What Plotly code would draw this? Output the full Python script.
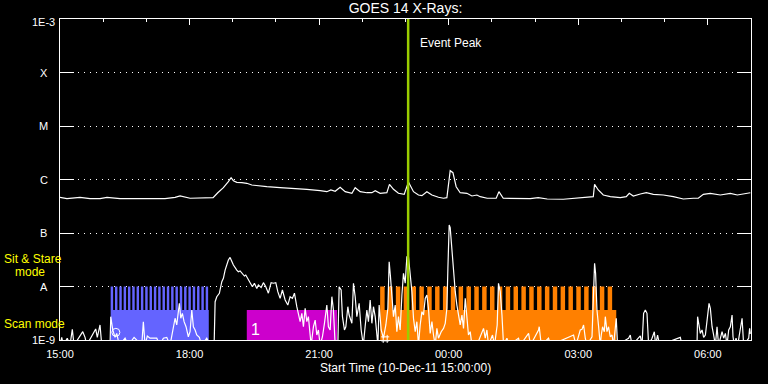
import numpy as np
import plotly.graph_objects as go

# ---------------- data (time in minutes after 10-Dec-11 15:00 UT) ----------------
long_t = [0, 9.7, 27.8, 41.7, 55.6, 65.3, 83.4, 111.2, 115.4, 127.9,
          145.9, 159.9, 166.8, 180.7, 194.6, 201.6, 212.7, 219.2, 227.0, 233.9,
          237.7, 240.9, 245.6, 252.6, 259.5, 266.5, 273.4, 287.3, 305.8, 324.3,
          342.9, 361.4, 370.7, 376.3, 382.3, 389.2, 396.2, 405.5, 410.1, 417.0,
          426.3, 433.3, 437.9, 444.8, 454.1, 457.7, 463.3, 470.2, 478.2, 484.1,
          491.1, 498.0, 502.8, 509.7, 516.7, 525.8, 532.8, 537.5, 542.1, 545.9,
          550.4, 556.0, 565.3, 572.3, 579.2, 583.8, 586.6, 593.5, 606.0, 609.8,
          615.8, 629.7, 639.4, 653.3, 664.4, 676.9, 699.2, 718.6, 736.7, 740.9,
          742.7, 747.8, 754.8, 764.5, 778.4, 786.7, 790.9, 796.5, 806.2, 814.5,
          824.3, 838.2, 852.1, 866.0, 879.9, 886.8, 893.8, 903.5, 917.4, 931.3,
          941.0, 949.4, 959.1]
# 1-8 A channel, units of 1e-7 W/m^2
long_flux_e7 = [4.65, 4.38, 4.65, 4.38, 4.38, 4.65, 4.38, 4.38, 4.27, 4.27,
                4.38, 4.65, 4.92, 4.46, 4.46, 4.46, 4.57, 5.66, 7.03, 9.1,
                10.8, 9.5, 8.87, 8.71, 8.49, 7.89, 7.66, 7.33, 7.03, 6.84,
                6.56, 6.18, 5.92, 6.37, 6.02, 7.15, 5.92, 5.52, 7.03, 5.92,
                5.66, 5.66, 6.18, 5.52, 5.66, 8.13, 6.56, 5.52, 5.28, 8.98,
                5.92, 5.13, 4.98, 5.92, 5.13, 4.65, 4.46, 4.57, 14.6, 13.4,
                7.33, 5.66, 5.52, 4.92, 5.13, 4.77, 4.65, 4.46, 4.46, 5.92,
                4.46, 4.38, 4.32, 4.38, 4.57, 4.32, 4.27, 4.46, 4.77, 4.77,
                8.13, 6.37, 5.13, 4.77, 4.57, 4.77, 5.52, 4.92, 5.36, 5.66,
                5.28, 5.13, 4.77, 4.32, 4.46, 4.46, 5.28, 5.52, 5.13, 5.52,
                5.13, 5.36, 5.66]

short_t = [0, 2.4, 4.6, 10.1, 13.9, 17.1, 19.5, 31.6, 34.8, 37.1,
           49.6, 51.8, 55.6, 58.0, 69.5, 70.5, 73.3, 76.5, 78.8, 82.4,
           90.4, 94.9, 102.9, 113.6, 115.8, 118.2, 121.3, 125.1, 134.4, 139.0,
           143.6, 148.3, 152.9, 157.5, 159.9, 162.2, 164.4, 165.8, 167.8, 170.0,
           172.4, 175.1, 178.3, 180.7, 183.1, 185.3, 187.7, 190.0, 193.6, 197.0,
           203.9, 208.5, 214.1, 215.5, 217.8, 221.4, 224.8, 227.0, 229.4, 231.7,
           233.9, 236.3, 238.7, 240.9, 245.6, 247.8, 250.2, 253.4, 256.2, 258.1,
           260.9, 264.1, 267.3, 270.1, 273.4, 275.6, 279.4, 282.6, 285.9, 289.5,
           293.3, 296.5, 299.8, 302.6, 305.8, 309.0, 312.8, 316.5, 319.7, 322.9,
           325.7, 329.0, 331.2, 333.6, 336.0, 338.2, 340.6, 342.9, 345.1, 348.9,
           352.1, 354.5, 356.8, 359.0, 361.4, 364.6, 367.4, 370.7, 372.9, 375.3,
           377.7, 379.9, 382.3, 386.0, 387.8, 390.6, 392.4, 395.2, 397.1, 399.9,
           401.7, 405.5, 407.7, 410.1, 412.4, 415.6, 418.4, 421.4, 423.9, 426.3,
           428.5, 430.9, 433.3, 435.5, 437.9, 441.6, 443.4, 446.2, 449.4, 452.7,
           455.5, 457.3, 459.1, 461.1, 463.3, 465.7, 468.0, 470.2, 472.6, 475.0,
           477.2, 479.6, 481.9, 484.1, 486.5, 488.9, 491.1, 493.5, 495.8, 498.0,
           500.4, 502.8, 505.0, 507.4, 509.7, 511.9, 514.3, 516.7, 518.9, 521.3,
           523.6, 525.8, 529.6, 532.8, 535.2, 537.5, 538.9, 540.7, 542.1, 544.5,
           546.7, 549.1, 551.4, 553.6, 556.0, 558.4, 560.6, 563.0, 565.3, 567.5,
           569.9, 572.3, 579.2, 586.2, 588.4, 590.8, 593.1, 595.3, 600.9, 603.7,
           607.4, 609.2, 611.6, 614.0, 616.2, 620.9, 624.1, 637.0, 639.4, 651.0,
           653.7, 664.8, 665.8, 668.6, 678.7, 681.5, 713.5, 716.8, 720.4, 722.8,
           725.2, 727.4, 729.8, 732.1, 739.1, 741.3, 742.7, 744.1, 746.0, 748.3,
           750.6, 752.0, 753.8, 756.2, 757.6, 759.9, 762.1, 764.5, 766.9, 769.1,
           771.5, 772.8, 774.6, 789.9, 792.3, 794.6, 806.2, 808.6, 810.8, 813.2,
           815.5, 817.8, 822.5, 825.7, 827.5, 830.2, 833.0, 861.8, 864.2, 885.0,
           885.8, 887.2, 889.6, 892.0, 894.2, 896.6, 899.7, 901.7, 903.5, 905.9,
           908.1, 910.5, 912.8, 915.0, 919.8, 922.0, 924.4, 926.7, 929.0, 931.3,
           933.7, 935.0, 936.9, 939.2, 941.5, 944.2, 946.2, 947.6, 949.8, 956.8,
           958.1, 959.1]
# 0.5-4 A channel, units of 1e-9 W/m^2 (values below 1 fall under the plot floor)
short_flux_e9 = [0.8, 1.12, 0.8, 1.08, 0.8, 1.58, 0.8, 1.43, 1.12, 0.8,
                 1.61, 1.12, 1.91, 0.8, 0.8, 2.73, 1.54, 1.12, 1.33, 0.8,
                 1.08, 0.8, 1.12, 0.8, 2.2, 0.8, 1.19, 1.08, 1.08, 0.8,
                 1.08, 1.12, 0.8, 1.77, 2.55, 1.91, 3.91, 4.85, 2.55, 3.15,
                 2.2, 1.77, 1.15, 1.43, 3.64, 1.77, 1.54, 1.24, 1.12, 0.8,
                 1.08, 0.8, 0.8, 5.2, 6.45, 7.48, 12.3, 14.2, 20.3, 25.2,
                 31.3, 35.0, 29.0, 25.2, 20.3, 18.9, 19.5, 17.1, 15.7, 16.4,
                 14.2, 12.3, 9.9, 11.5, 9.2, 10.7, 9.6, 11.8, 9.9, 7.5,
                 11.8, 11.5, 11.8, 8.0, 6.0, 8.6, 5.6, 4.5, 6.45, 6.0,
                 7.5, 4.19, 2.93, 2.2, 3.15, 1.77, 3.91, 2.2, 2.73, 0.8,
                 1.77, 2.36, 1.24, 1.54, 0.8, 1.15, 2.05, 4.5, 1.77, 1.54,
                 6.45, 3.64, 0.8, 0.8, 9.9, 8.6, 2.73, 1.54, 1.77, 4.19,
                 2.93, 2.05, 11.5, 6.45, 2.73, 4.85, 1.54, 0.8, 1.77, 3.64,
                 2.2, 5.6, 2.05, 4.19, 2.73, 0.8, 4.5, 1.54, 1.08, 1.91,
                 3.91, 29.0, 15.3, 7.5, 2.73, 4.5, 1.43, 2.73, 1.54, 6.93,
                 17.6, 11.5, 36.0, 36.0, 17.6, 8.0, 2.55, 1.43, 2.2, 0.8,
                 1.91, 3.38, 2.93, 6.0, 6.93, 3.91, 1.33, 2.2, 1.24, 0.8,
                 1.65, 1.08, 1.43, 1.65, 2.05, 3.91, 21.9, 141.0, 126.0, 44.7,
                 25.2, 8.0, 4.5, 2.93, 1.91, 2.93, 1.65, 6.0, 2.93, 1.24,
                 1.43, 0.8, 0.8, 1.33, 1.65, 1.08, 1.54, 0.8, 1.24, 0.8,
                 1.91, 11.5, 8.0, 2.93, 0.8, 1.08, 0.8, 1.08, 0.8, 1.33,
                 0.8, 1.54, 1.77, 0.8, 1.08, 0.8, 1.24, 0.8, 1.24, 1.54,
                 1.58, 1.91, 1.08, 0.8, 1.15, 11.5, 27.2, 17.6, 3.64, 1.77,
                 0.8, 1.24, 1.77, 1.43, 2.73, 1.43, 1.77, 1.15, 1.24, 0.8,
                 1.54, 2.55, 0.8, 1.08, 1.24, 0.8, 1.19, 0.8, 3.15, 3.64,
                 3.15, 0.8, 1.08, 1.43, 0.8, 1.24, 0.8, 1.12, 0.8, 0.8,
                 2.73, 2.2, 1.33, 1.54, 1.12, 1.24, 2.55, 4.85, 3.91, 1.77,
                 1.24, 0.8, 1.77, 0.8, 1.43, 1.08, 1.33, 0.8, 1.54, 1.77,
                 2.93, 1.15, 0.8, 1.08, 0.8, 1.43, 1.77, 2.55, 0.8, 1.08,
                 1.65, 1.3]

x_tickvals = [0, 180, 360, 540, 720, 900]
x_ticktext = ["15:00", "18:00", "21:00", "00:00", "03:00", "06:00"]
y_tickvals = [1e-9, 1e-8, 1e-7, 1e-6, 1e-5, 1e-4, 1e-3]
y_ticktext = ["1E-9", "A", "B", "C", "M", "X", "1E-3"]

event_peak_t = 483.7   # 23:04 UT

# observing-mode blocks
mode_start = [70.4, 259.5, 444.8]
mode_end = [206.7, 385.0, 772.8]
mode_colors = ["#6464ff", "#cc00cc", "#ff8000"]
mode_teeth_n = [23, 0, 30]
mode_teeth_period = [6.0, 0.0, 10.9]
mode_teeth_width = [3.4, 0.0, 6.2]
scan_level = 3.64e-9
stare_level = 1e-8
floor_level = 1e-9

symbol_t = [77.6, 451.8]
symbol_flux = [1.39e-9, 1.05e-9]
symbol_kind = ["circle-open", "hash-open"]

# ---------------- figure ----------------
fig = go.Figure()

def rect(xs, ys, a, b, lo, hi):
    xs.extend([a, b, b, a, a, None])
    ys.extend([lo, lo, hi, hi, lo, None])

for s, e, c, n, p, w in zip(mode_start, mode_end, mode_colors,
                            mode_teeth_n, mode_teeth_period, mode_teeth_width):
    xs, ys = [], []
    rect(xs, ys, s, e, floor_level, scan_level)
    for k in range(n):
        a = s + k * p
        rect(xs, ys, a, a + w, scan_level, stare_level)
    fig.add_trace(go.Scatter(x=xs, y=ys, mode="lines", fill="toself",
                             fillcolor=c, line=dict(width=0, color=c),
                             hoverinfo="skip"))

long_flux = [v * 1e-7 for v in long_flux_e7]
short_flux = [v * 1e-9 for v in short_flux_e9]

fig.add_trace(go.Scatter(x=long_t, y=long_flux, mode="lines",
                         line=dict(color="white", width=1.2)))
fig.add_trace(go.Scatter(x=short_t, y=short_flux, mode="lines",
                         line=dict(color="white", width=1.2)))
fig.add_trace(go.Scatter(x=symbol_t, y=symbol_flux, mode="markers",
                         marker=dict(symbol=symbol_kind, size=8, color="white",
                                     line=dict(color="white", width=1)),
                         cliponaxis=False))
# invisible trace anchoring the top tick axis
fig.add_trace(go.Scatter(x=[x_tickvals[0]], y=[1e-6], xaxis="x2", mode="markers",
                         marker=dict(opacity=0), hoverinfo="skip"))

fig.add_shape(type="line", x0=event_peak_t, x1=event_peak_t, xref="x",
              y0=0, y1=1, yref="paper", line=dict(color="#9acd00", width=2.5),
              layer="above")

fig.add_annotation(x=event_peak_t, xref="x", xshift=10, xanchor="left",
                   y=0.925, yref="paper", yanchor="middle", text="Event Peak",
                   showarrow=False, font=dict(size=12, color="white"))
fig.add_annotation(x=mode_start[1], xref="x", xshift=2, xanchor="left",
                   y=np.log10(floor_level), yref="y", yanchor="bottom", yshift=0,
                   text="1", showarrow=False, font=dict(size=16, color="white"))

# y tick labels, centred left of the axis
for v, t in zip(y_tickvals, y_ticktext):
    fig.add_annotation(x=-0.0232, xref="paper", xanchor="center",
                       y=np.log10(v), yref="y", yanchor="middle",
                       yshift=-3 if v == y_tickvals[-1] else 0,
                       text=t, showarrow=False,
                       font=dict(size=11, color="white"))

for txt, xp, yp in [("Sit & Stare", -0.084, 0.252), ("mode", -0.068, 0.212),
                    ("Scan mode", -0.084, 0.05)]:
    fig.add_annotation(x=xp, xref="paper", xanchor="left", y=yp, yref="paper",
                       yanchor="middle", text=txt, showarrow=False,
                       font=dict(size=12, color="#ffff00"))

fig.add_annotation(x=0.5, xref="paper", xanchor="center", y=-0.0857,
                   yref="paper", yanchor="middle",
                   text="Start Time (10-Dec-11 15:00:00)", showarrow=False,
                   font=dict(size=12, color="white"))

fig.update_layout(
    width=768, height=384,
    margin=dict(l=60, r=17, t=19, b=44),
    paper_bgcolor="black", plot_bgcolor="black",
    showlegend=False,
    font=dict(family="Liberation Sans", color="white", size=11),
    title=dict(text="GOES 14 X-Rays:", x=0.5, xref="paper", xanchor="center",
               y=1 - 8 / 384, yref="container", yanchor="middle",
               font=dict(size=14, color="white")),
    xaxis=dict(range=[0, 960], tickvals=x_tickvals, ticktext=x_ticktext,
               ticks="", showgrid=False, zeroline=False, showline=True,
               linecolor="white", linewidth=1, mirror=True,
               tickfont=dict(size=11, color="white"), ticklabelstandoff=4),
    xaxis2=dict(range=[0, 960], overlaying="x", side="top", anchor="y",
                tickvals=x_tickvals, ticks="inside", ticklen=6,
                tickcolor="white", tickwidth=1, showticklabels=False,
                showgrid=False, zeroline=False, showline=False,
                minor=dict(ticks="inside", ticklen=3, tick0=0, dtick=60,
                           tickcolor="white", tickwidth=1, showgrid=False)),
    yaxis=dict(type="log", range=[-9, -3], tickvals=y_tickvals,
               ticks="inside", ticklen=14, tickcolor="white", tickwidth=1,
               showticklabels=False, showline=True, linecolor="white",
               linewidth=1, mirror="ticks", showgrid=True, gridcolor="white",
               gridwidth=1, griddash="1px,5px", zeroline=False),
)

fig.write_html(
    "out.html",
    config={"displayModeBar": False},
    post_script="document.body.style.margin='0';"
                "document.body.style.background='black';",
)
